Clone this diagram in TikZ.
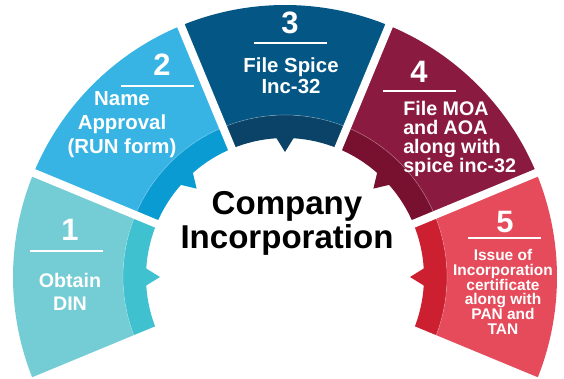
\documentclass[tikz,border=0pt]{standalone}
\usepackage{fontspec}
\setmainfont{Liberation Sans}
\definecolor{tealMain}{HTML}{74CCD5}
\definecolor{tealBand}{HTML}{3FC1CF}
\definecolor{skyMain}{HTML}{38B4E4}
\definecolor{skyBand}{HTML}{0A9BD3}
\definecolor{navyMain}{HTML}{045785}
\definecolor{navyBand}{HTML}{0A4367}
\definecolor{wineMain}{HTML}{8B1A40}
\definecolor{wineBand}{HTML}{78112F}
\definecolor{redMain}{HTML}{E54B5B}
\definecolor{redBand}{HTML}{CC2030}

\begin{document}
\begin{tikzpicture}[x=0.025cm,y=0.025cm,
      numNode/.style={text=white,font=\fontsize{22}{22}\selectfont\bfseries,inner sep=0pt},
      stepText/.style={text=white,align=center,inner sep=0pt},
      numBar/.style={white,line width=2.1pt},
      gapLine/.style={white,line width=5.7pt},
      bandEdge/.style={white,opacity=0.25,line width=0.5pt},
    ]
    \useasboundingbox (-285,-102) rectangle (279,277);

    % 1
    \fill[tealMain] (157.5:162) -- (157.5:272) arc[start angle=157.5,end angle=202.5,radius=272] -- (202.5:162) arc[start angle=202.5,end angle=157.5,radius=162] -- cycle;
    \fill[tealBand] (157.5:139) -- (157.5:162) arc[start angle=157.5,end angle=202.5,radius=162] -- (202.5:139) arc[start angle=202.5,end angle=183.5,radius=139] -- (180:125) -- (176.5:139) arc[start angle=176.5,end angle=157.5,radius=139] -- cycle;
    \draw[bandEdge] (157.5:162) arc[start angle=157.5,end angle=202.5,radius=162];

    % 2
    \fill[skyMain] (112.5:162) -- (112.5:272) arc[start angle=112.5,end angle=157.5,radius=272] -- (157.5:162) arc[start angle=157.5,end angle=112.5,radius=162] -- cycle;
    \fill[skyBand] (112.5:139) -- (112.5:162) arc[start angle=112.5,end angle=157.5,radius=162] -- (157.5:139) arc[start angle=157.5,end angle=138.5,radius=139] -- (135:125) -- (131.5:139) arc[start angle=131.5,end angle=112.5,radius=139] -- cycle;
    \draw[bandEdge] (112.5:162) arc[start angle=112.5,end angle=157.5,radius=162];

    % 3
    \fill[navyMain] (67.5:162) -- (67.5:272) arc[start angle=67.5,end angle=112.5,radius=272] -- (112.5:162) arc[start angle=112.5,end angle=67.5,radius=162] -- cycle;
    \fill[navyBand] (67.5:139) -- (67.5:162) arc[start angle=67.5,end angle=112.5,radius=162] -- (112.5:139) arc[start angle=112.5,end angle=93.5,radius=139] -- (90:125) -- (86.5:139) arc[start angle=86.5,end angle=67.5,radius=139] -- cycle;
    \draw[bandEdge] (67.5:162) arc[start angle=67.5,end angle=112.5,radius=162];

    % 4
    \fill[wineMain] (22.5:162) -- (22.5:272) arc[start angle=22.5,end angle=67.5,radius=272] -- (67.5:162) arc[start angle=67.5,end angle=22.5,radius=162] -- cycle;
    \fill[wineBand] (22.5:139) -- (22.5:162) arc[start angle=22.5,end angle=67.5,radius=162] -- (67.5:139) arc[start angle=67.5,end angle=48.5,radius=139] -- (45:125) -- (41.5:139) arc[start angle=41.5,end angle=22.5,radius=139] -- cycle;
    \draw[bandEdge] (22.5:162) arc[start angle=22.5,end angle=67.5,radius=162];

    % 5
    \fill[redMain] (-22.5:162) -- (-22.5:272) arc[start angle=-22.5,end angle=22.5,radius=272] -- (22.5:162) arc[start angle=22.5,end angle=-22.5,radius=162] -- cycle;
    \fill[redBand] (-22.5:139) -- (-22.5:162) arc[start angle=-22.5,end angle=22.5,radius=162] -- (22.5:139) arc[start angle=22.5,end angle=3.5,radius=139] -- (0:125) -- (-3.5:139) arc[start angle=-3.5,end angle=-22.5,radius=139] -- cycle;
    \draw[bandEdge] (-22.5:162) arc[start angle=-22.5,end angle=22.5,radius=162];

    % gaps
    \draw[gapLine] (202.5:120) -- (202.5:290);
    \draw[gapLine] (157.5:120) -- (157.5:290);
    \draw[gapLine] (112.5:120) -- (112.5:290);
    \draw[gapLine] (67.5:120) -- (67.5:290);
    \draw[gapLine] (22.5:120) -- (22.5:290);
    \draw[gapLine] (-22.5:120) -- (-22.5:290);

    \node[numNode] (num1) at (-215,47) {1};
    \draw[numBar] (-255,26) -- (-182,26);
    \node[stepText,font=\fontsize{14}{16.4}\selectfont\bfseries] (step1) at (-215,-14.5) {Obtain\\DIN};

    \node[numNode] (num2) at (-123,212) {2};
    \draw[numBar] (-164,191) -- (-91,191);
    \node[stepText,font=\fontsize{14.5}{17}\selectfont\bfseries] (step2) at (-163,152) {Name\\Approval\\(RUN form)};

    \node[numNode] (num3) at (5,254) {3};
    \draw[numBar] (-31,234) -- (42,234);
    \node[stepText,font=\fontsize{14.5}{15}\selectfont\bfseries] (step3) at (6,201) {File Spice\\Inc-32};

    \node[numNode] (num4) at (134,205) {4};
    \draw[numBar] (98,186) -- (171,186);
    \node[stepText,align=left,anchor=west,font=\fontsize{14}{13.5}\selectfont\bfseries] (step4) at (118,138.5) {File MOA\\and AOA\\along with\\spice inc-32};

    \node[numNode] (num5) at (220,55) {5};
    \draw[numBar] (183,39) -- (256,39);
    \node[stepText,font=\fontsize{11}{10.5}\selectfont\bfseries] (step5) at (218,-15) {Issue of\\Incorporation\\certificate\\along with\\PAN and\\TAN};

    \node[align=center,inner sep=0pt,font=\fontsize{23.5}{24.2}\selectfont\bfseries] (title) at (2,53.5) {Company\\Incorporation};

\end{tikzpicture}
\end{document}
